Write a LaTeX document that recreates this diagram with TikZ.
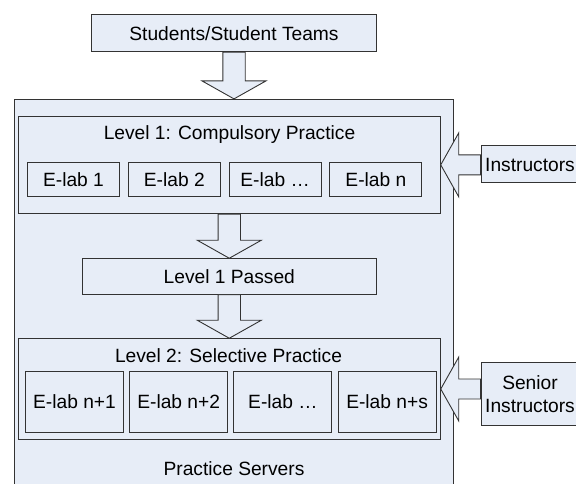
\documentclass[tikz,border=0pt]{standalone}
\usepackage{fontspec}
\setmainfont{Liberation Sans}
\usetikzlibrary{positioning,calc}

\definecolor{boxblue}{HTML}{E7EDF7}
\definecolor{edgegray}{HTML}{333333}
\newcommand{\diagfont}{\fontsize{19.2}{23}\selectfont}

% hollow block arrows between two anchors
\newcommand{\downarrowblock}[2]{%
  \draw[blockarrow] let \p1=(#1), \p2=(#2) in
    (\x1-11.2pt,\y1) -- (\x1-11.2pt,\y2+18pt) -- (\x1-32pt,\y2+18pt) -- (\x1,\y2)
    -- (\x1+32pt,\y2+18pt) -- (\x1+11.2pt,\y2+18pt) -- (\x1+11.2pt,\y1) -- cycle;}
\newcommand{\leftarrowblock}[2]{%
  \draw[blockarrow] let \p1=(#1), \p2=(#2) in
    (\x1,\y2+10pt) -- (\x2+18pt,\y2+10pt) -- (\x2+18pt,\y2+32pt) -- (\x2,\y2)
    -- (\x2+18pt,\y2-32pt) -- (\x2+18pt,\y2-10pt) -- (\x1,\y2-10pt) -- cycle;}

\begin{document}
\begin{tikzpicture}[x=1pt,y=-1pt]
    \tikzstyle{every node}=[rectangle,draw=edgegray,fill=boxblue,line width=0.9pt,inner sep=0,font=\diagfont]
    \tikzstyle{note}=[draw=none,fill=none]
    \tikzstyle{textbox}=[text height=13.8pt,text depth=0pt]
    \tikzstyle{level}=[minimum width=422]
    \tikzstyle{labA}=[textbox,minimum width=92,minimum height=33.7]
    \tikzstyle{labB}=[textbox,minimum width=98,minimum height=61.7]
    \tikzstyle{side}=[minimum width=98]
    \tikzstyle{blockarrow}=[draw=edgegray,fill=boxblue,line width=0.9pt]

    \useasboundingbox (0,0) rectangle (576,484);
    \clip (0,0) rectangle (576,484);

    \node (servers) at (234,297.2) [minimum width=439.4,minimum height=395.7] {};
    \node[note,anchor=base] (serverstitle) at (234,475.3) {Practice Servers};

    \node[textbox,minimum width=284.6,minimum height=36.7] (students) at (234,33.3) {Students/Student Teams};
    \downarrowblock{students.south}{servers.north}

    % level 1
    \node[level,minimum height=97.7] (lvl1) at (229.3,164.85) {};
    \node[note,anchor=base] (lvl1title) at (229.5,140) {Level 1: Compulsory Practice};
    \foreach \n/\lab in {1/E-lab 1,2/E-lab 2,3/E-lab \ldots,4/E-lab n} {
        \node[labA] (labA\n) at ({73.5+100.8*(\n-1)},179.2) {\lab};
    }
    \node[textbox,minimum width=294,minimum height=35.6] (passed) at (229.3,276.5) {Level 1 Passed};
    \downarrowblock{lvl1.south}{passed.north}

    % level 2
    \node[level,minimum height=100.6] (lvl2) at (229.3,389) {};
    \node[note,anchor=base] (lvl2title) at (228.5,362.7) {Level 2: Selective Practice};
    \foreach \n/\lab in {1/E-lab n+1,2/E-lab n+2,3/E-lab \ldots,4/E-lab n+s} {
        \node[labB] (labB\n) at ({74.5+104.2*(\n-1)},401.9) {\lab};
    }
    \downarrowblock{passed.south}{lvl2.north}

    % staff on the right
    \node[side,textbox,minimum height=37] (instr) at (530,164.2) {Instructors};
    \node[side,minimum height=63.3,align=center] (senior) at (530,393.7) {Senior\\Instructors};
    \leftarrowblock{instr.west |- lvl1.east}{lvl1.east}
    \leftarrowblock{senior.west |- lvl2.east}{lvl2.east}
\end{tikzpicture}
\end{document}
